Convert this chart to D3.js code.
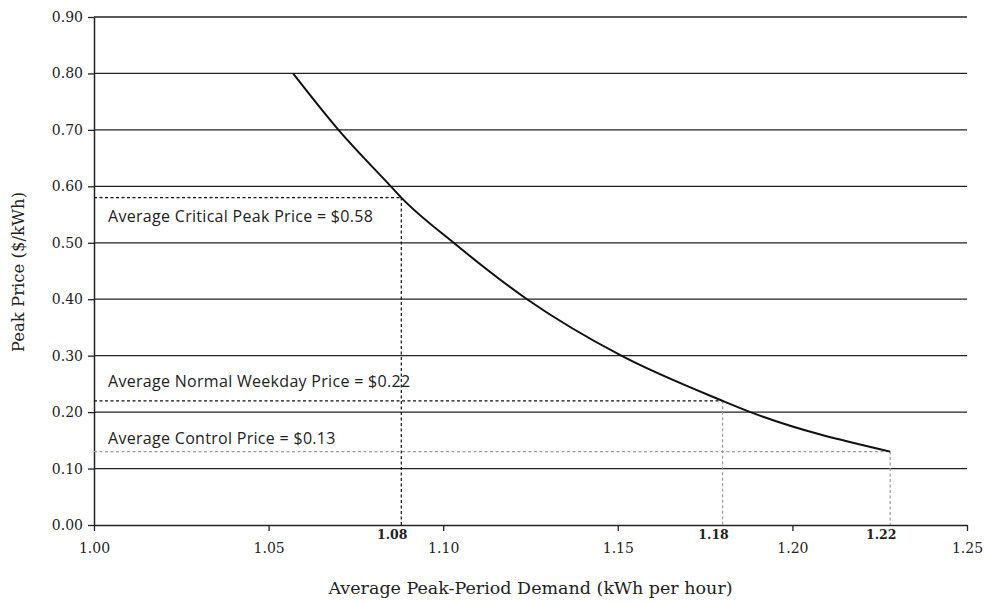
<!DOCTYPE html>
<html><head><meta charset="utf-8">
<script src="https://cdn.jsdelivr.net/npm/d3@7"></script>
<style>
body{margin:0;background:#fff;}
svg{display:block;}
.tick text{font-family:"DejaVu Serif",serif;}
</style></head>
<body><svg id="c" width="984" height="602"></svg>
<script>
// ---- data ----
const demand = [1.057, 1.070, 1.085, 1.088, 1.103, 1.124, 1.151, 1.180, 1.188, 1.228];
const price  = [0.80, 0.70, 0.60, 0.58, 0.50, 0.40, 0.30, 0.22, 0.20, 0.13];
const yTicks = [0.00,0.10,0.20,0.30,0.40,0.50,0.60,0.70,0.80,0.90];
const xTicks = [1.00,1.05,1.10,1.15,1.20,1.25];
const refNames  = ["Average Critical Peak Price = $0.58","Average Normal Weekday Price = $0.22","Average Control Price = $0.13"];
const refPrice  = [0.58, 0.22, 0.13];
const refDemand = [1.088, 1.180, 1.228];
const refLabels = ["1.08","1.18","1.22"];
const refColor  = ["#111","#111","#999"];   // horizontal line colour
const vColor    = ["#111","#999","#999"];   // vertical line colour
const labelDy   = [24, -14, -8];

const W=984,H=602, m={l:94,r:17,t:17,b:77};
const svg=d3.select("#c");
const x=d3.scaleLinear().domain([1.00,1.25]).range([m.l,W-m.r]);
const y=d3.scaleLinear().domain([0,0.90]).range([H-m.b,m.t]);

// gridlines
svg.append("g").selectAll("line").data(yTicks.filter(d=>d>0)).join("line")
  .attr("x1",x(1.0)).attr("x2",x(1.25)).attr("y1",d=>y(d)).attr("y2",d=>y(d))
  .attr("stroke","#222").attr("stroke-width",1.3);

// y axis
const ya=svg.append("g").attr("transform",`translate(${m.l},0)`)
  .call(d3.axisLeft(y).tickValues(yTicks).tickFormat(d3.format(".2f")).tickSize(6).tickSizeOuter(0));
ya.select(".domain").attr("stroke","#222").attr("stroke-width",1.5);
ya.selectAll(".tick line").attr("stroke","#222").attr("stroke-width",1.3);
ya.selectAll(".tick text").attr("font-size",14).attr("fill","#222").attr("x",-11);

// x axis
const xa=svg.append("g").attr("transform",`translate(0,${y(0)})`)
  .call(d3.axisBottom(x).tickValues(xTicks).tickFormat(d3.format(".2f")).tickSize(6).tickSizeOuter(0));
xa.select(".domain").attr("stroke","#222").attr("stroke-width",1.5);
xa.selectAll(".tick line").attr("stroke","#222").attr("stroke-width",1.3);
xa.selectAll(".tick text").attr("font-size",14).attr("fill","#222").attr("y",18);

// reference dashed lines
const refs=d3.range(refPrice.length);
svg.append("g").selectAll("line").data(refs).join("line")
  .attr("x1",x(1.0)).attr("x2",i=>x(refDemand[i])).attr("y1",i=>y(refPrice[i])).attr("y2",i=>y(refPrice[i]))
  .attr("stroke",i=>refColor[i]).attr("stroke-width",1.2).attr("stroke-dasharray","3,2.5");
svg.append("g").selectAll("line").data(refs).join("line")
  .attr("x1",i=>x(refDemand[i])).attr("x2",i=>x(refDemand[i])).attr("y1",i=>y(refPrice[i])).attr("y2",y(0))
  .attr("stroke",i=>vColor[i]).attr("stroke-width",1.2).attr("stroke-dasharray","3,2.5");
svg.append("g").selectAll("text").data(refs).join("text")
  .attr("x",i=>x(refDemand[i])-9).attr("y",y(0)+14).attr("text-anchor","middle")
  .attr("font-family","DejaVu Serif,serif").attr("font-size",12.5).attr("font-weight","bold").attr("fill","#222")
  .text(i=>refLabels[i]);
svg.append("g").selectAll("text").data(refs).join("text")
  .attr("x",x(1.0)+14).attr("y",i=>y(refPrice[i])+labelDy[i])
  .attr("font-family","'Open Sans',sans-serif").attr("font-size",16).attr("letter-spacing",0.3).attr("fill","#222")
  .text(i=>refNames[i]);

// curve
const pts=demand.map((d,i)=>[d,price[i]]);
svg.append("path").datum(pts)
  .attr("d",d3.line().x(d=>x(d[0])).y(d=>y(d[1])).curve(d3.curveMonotoneX))
  .attr("fill","none").attr("stroke","#111").attr("stroke-width",2);

// titles
svg.append("text").attr("x",(x(1.0)+x(1.25))/2).attr("y",594).attr("text-anchor","middle")
  .attr("font-family","DejaVu Serif,serif").attr("font-size",17.5).attr("fill","#222")
  .text("Average Peak-Period Demand (kWh per hour)");
svg.append("text").attr("transform","translate(24,272) rotate(-90)").attr("text-anchor","middle")
  .attr("font-family","DejaVu Serif,serif").attr("font-size",16.5).attr("fill","#222")
  .text("Peak Price ($/kWh)");
</script></body></html>
